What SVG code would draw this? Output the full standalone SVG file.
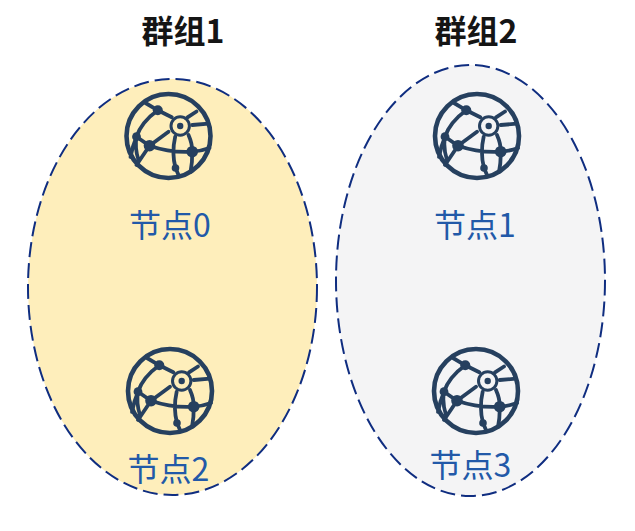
<svg xmlns="http://www.w3.org/2000/svg" width="635" height="531" viewBox="0 0 635 531">
<style>
.area{stroke:#0f2d80;stroke-width:2;stroke-dasharray:15 6}
.t{font-family:"Noto Sans CJK SC","Noto Sans",sans-serif;text-anchor:middle}
.h{font-size:32px;font-weight:700;fill:#151515}
.n{font-size:32px;fill:#2259a8}
.g{fill:none;stroke:#26405f;stroke-width:3.8;stroke-linecap:round}
.d{fill:#26405f}
</style>
<defs>
<g id="globe">
<circle class="g" r="42" style="stroke-width:4.6"/>
<path class="g" d="M-23-33L-10.7-25.7L3.3-18.7M19-18.7L28-24.5M-10.7-25.7Q-27-14-32 .7Q-36 10-38 21M-19 9.7L0-4.3M-32 .7L-19 9.7Q2 17 23.7 15.7Q33 15 41 12M-19 9.7L-32 29M-32 .7Q-34 12-30 24M6.7 .7Q3 17 7 32L10 39M20-1Q24 8 23.7 15.7Q24 26 22 36M23.7-11L40-12.3"/>
<circle class="d" cx="-10.7" cy="-25.700" r="5"/>
<circle class="d" cx="-32" cy=".7" r="4.400"/>
<circle class="d" cx="-19" cy="9.7" r="5.800"/>
<circle class="d" cx="23.7" cy="15.7" r="5.800"/>
<circle class="d" cx="7" cy="32" r="3.800"/>
<circle class="g" cx="11.7" cy="-10" r="9.2" style="stroke-width:3"/>
<circle class="d" cx="11.7" cy="-10" r="3.2"/>
</g>
</defs>
<g id="group1">
<ellipse class="area" cx="172.5" cy="287" rx="144.5" ry="208" fill="#feeebb"/>
<text class="t h" x="183" y="43">群组1</text>
</g>
<g id="group2">
<ellipse class="area" cx="470.5" cy="280.5" rx="134.5" ry="215.5" fill="#f4f4f5"/>
<text class="t h" x="476" y="43">群组2</text>
</g>
<g id="connectors"></g>
<g id="node0"><use href="#globe" x="168.5" y="136"/><text class="t n" x="170" y="237">节点0</text></g>
<g id="node1"><use href="#globe" x="477" y="136"/><text class="t n" x="475" y="237">节点1</text></g>
<g id="node2"><use href="#globe" x="170" y="391"/><text class="t n" x="168.500" y="481">节点2</text></g>
<g id="node3"><use href="#globe" x="476" y="391"/><text class="t n" x="470.500" y="477">节点3</text></g>
</svg>
